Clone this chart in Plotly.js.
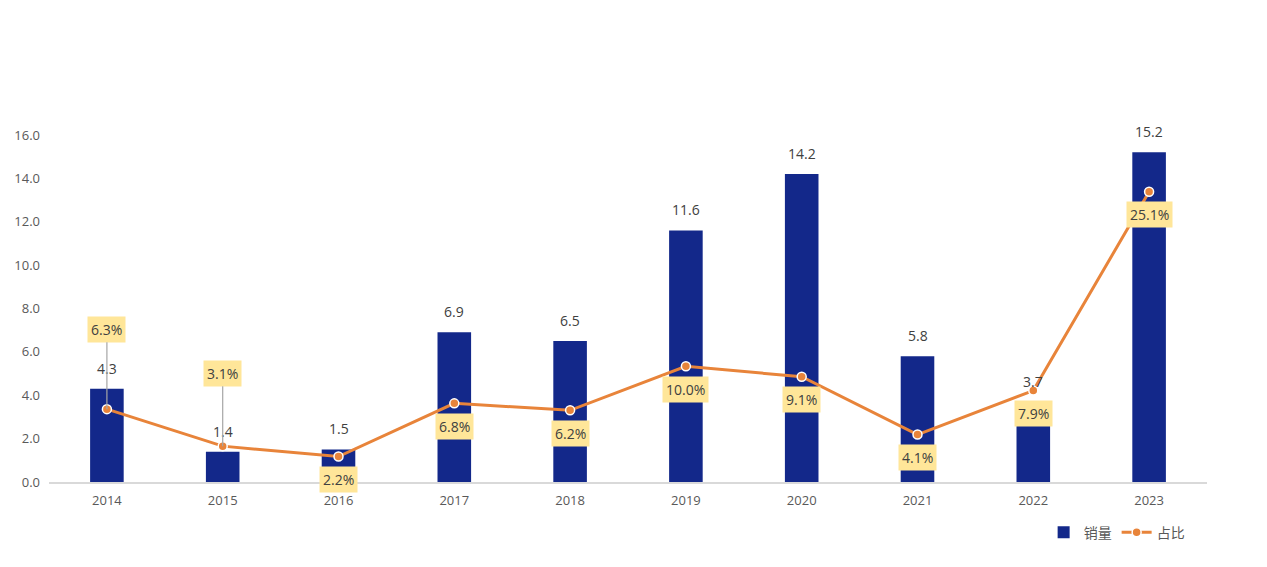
<!DOCTYPE html>
<html>
<head>
<meta charset="utf-8">
<script src="https://cdn.plot.ly/plotly-3.0.1.min.js"></script>
<style>
  html,body{margin:0;padding:0;background:#fff;}
  #chart{width:1267px;height:567px;}
</style>
</head>
<body>
<div id="chart"></div>
<script>
(function(){
  // --------- Datos ---------
  const years  = ['2014','2015','2016','2017','2018','2019','2020','2021','2022','2023'];
  const sales  = [4.3, 1.4, 1.5, 6.9, 6.5, 11.6, 14.2, 5.8, 3.7, 15.2];   // 销量
  const share  = [6.3, 3.1, 2.2, 6.8, 6.2, 10.0, 9.1, 4.1, 7.9, 25.1];   // 占比 (%)
  // desplazamiento vertical de cada etiqueta de % (px, positivo = arriba)
  const shareShift = [80, 73, -23, -23, -23, -23, -23, -23, -23, -23];

  const FONT = '"Open Sans", "Noto Sans CJK SC", sans-serif';
  const BLUE = '#13288A', ORANGE = '#E8843A', GREY = '#595959';

  const bars = {
    type:'bar', name:'销量', x:years, y:sales,
    marker:{color:BLUE}, width:0.29,
    hoverinfo:'skip'
  };
  const line = {
    type:'scatter', mode:'lines+markers', name:'占比', x:years, y:share, yaxis:'y2',
    line:{color:ORANGE, width:3},
    marker:{color:ORANGE, size:9, line:{color:'#fff', width:1.5}},
    hoverinfo:'skip'
  };

  // etiquetas de valores de barras (x = índice de categoría)
  const barLabels = years.map((yr,i)=>({
    x:i, y:sales[i], xref:'x', yref:'y', text:sales[i].toFixed(1),
    showarrow:false, yanchor:'bottom', yshift:9,
    font:{family:FONT, size:14, color:'#404040'}
  }));

  // etiquetas de % (caja amarilla); 2014/2015 con línea guía
  const shareLabels = years.map((yr,i)=>{
    const up = shareShift[i] > 0;
    const a = {
      x:i, y:share[i], xref:'x', yref:'y2', text:share[i].toFixed(1)+'%',
      bgcolor:'#FFE699', borderpad:3,
      font:{family:FONT, size:14, color:'#404040'}
    };
    if (up){
      Object.assign(a, {showarrow:true, arrowhead:0, arrowwidth:1.2, arrowcolor:'#A6A6A6',
        ax:0, ay:-shareShift[i], standoff:0});
    } else {
      Object.assign(a, {showarrow:false, yshift:shareShift[i]});
    }
    return a;
  });

  const layout = {
    width:1267, height:567,
    margin:{l:49, r:60, t:135, b:85},
    paper_bgcolor:'#fff', plot_bgcolor:'#fff',
    font:{family:FONT, color:GREY},
    showlegend:true,
    legend:{orientation:'h', x:0.985, xanchor:'right', y:-0.1, yanchor:'top',
      font:{family:FONT, size:14, color:GREY}, tracegroupgap:0},
    xaxis:{type:'category', range:[-0.5, 9.5], showgrid:false, showline:true, linecolor:'#D9D9D9', linewidth:1.5,
      ticks:'', tickfont:{size:13, color:GREY}, ticklabelstandoff:6, fixedrange:true},
    yaxis:{range:[0,16], dtick:2, tickformat:'.1f', showgrid:false, zeroline:false,
      showline:false, ticks:'', tickfont:{size:13, color:GREY}, ticklabelstandoff:8},
    yaxis2:{overlaying:'y', side:'right', range:[0,30], visible:false, showgrid:false},
    annotations: barLabels.concat(shareLabels)
  };

  Plotly.newPlot('chart', [bars, line], layout, {displayModeBar:false, staticPlot:true});
})();
</script>
</body>
</html>
